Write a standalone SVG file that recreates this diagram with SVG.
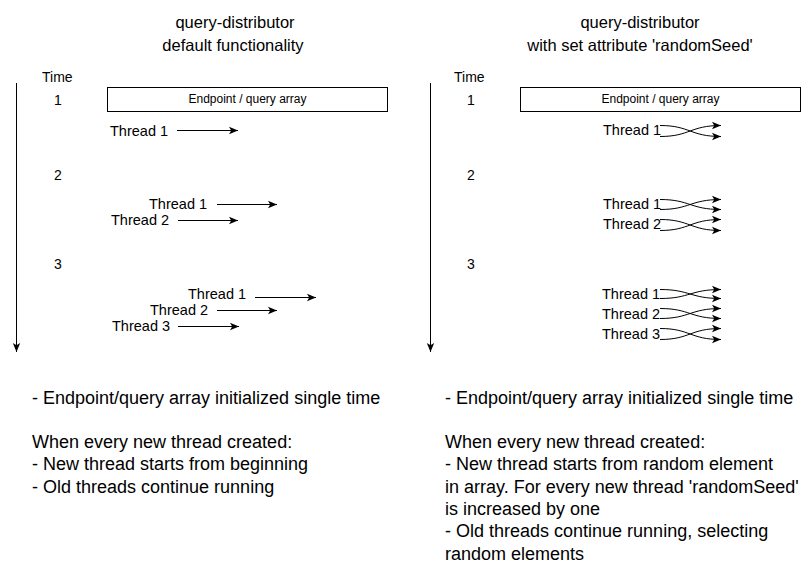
<svg xmlns="http://www.w3.org/2000/svg" width="805" height="573" viewBox="0 0 805 573">
<style>
text{font-family:"Liberation Sans",Arial,sans-serif;fill:#000}
.title{font-size:16.5px;text-anchor:middle}
.time{font-size:14px}
.th{font-size:14.5px}
.box{fill:#fff;stroke:#000;stroke-width:1}
.boxt{font-size:12px;text-anchor:middle}
.note{font-size:18px}
.ln{fill:none;stroke:#000;stroke-width:1}
</style>
<defs>
<marker id="arr" markerUnits="userSpaceOnUse" markerWidth="10" markerHeight="9" refX="9" refY="4.5" orient="auto" viewBox="0 0 10 9">
<path d="M0,0.8 L9,4.5 L0,8.2 L2.2,4.5 Z" fill="#000"/>
</marker>
</defs>
<rect width="805" height="573" fill="#fff"/>

<g id="title-left"><text class="title" x="235" y="28">query-distributor</text><text class="title" x="233" y="51">default functionality</text></g>
<g id="title-right"><text class="title" x="640" y="28">query-distributor</text><text class="title" x="640" y="51">with set attribute 'randomSeed'</text></g>

<g id="time-left"><text class="time" x="42" y="82">Time</text><text class="time" x="54" y="105">1</text><text class="time" x="54" y="180">2</text><text class="time" x="54" y="269">3</text></g>
<g id="time-right"><text class="time" x="454" y="82">Time</text><text class="time" x="467" y="105">1</text><text class="time" x="467" y="180">2</text><text class="time" x="467" y="269">3</text></g>

<g id="array-left"><rect class="box" x="107.5" y="87.5" width="280" height="24"/><text class="boxt" x="247.5" y="103">Endpoint / query array</text></g>
<g id="array-right"><rect class="box" x="520.5" y="87.5" width="280" height="24"/><text class="boxt" x="660.5" y="103">Endpoint / query array</text></g>

<g id="threads-left">
<text class="th" x="110" y="135.5">Thread 1</text>
<text class="th" x="149" y="208.5">Thread 1</text>
<text class="th" x="111" y="225">Thread 2</text>
<text class="th" x="188" y="299">Thread 1</text>
<text class="th" x="150" y="314.5">Thread 2</text>
<text class="th" x="112" y="330.5">Thread 3</text>
</g>
<g id="threads-right">
<text class="th" x="603" y="135">Thread 1</text>
<text class="th" x="603" y="209">Thread 1</text>
<text class="th" x="603" y="229">Thread 2</text>
<text class="th" x="602" y="299">Thread 1</text>
<text class="th" x="602" y="319">Thread 2</text>
<text class="th" x="602" y="339">Thread 3</text>
</g>

<g id="connectors">
<line class="ln" x1="16.5" y1="83" x2="16.5" y2="352" marker-end="url(#arr)"/>
<line class="ln" x1="430.5" y1="83" x2="430.5" y2="352" marker-end="url(#arr)"/>
<line class="ln" x1="177" y1="130.5" x2="238" y2="130.5" marker-end="url(#arr)"/>
<line class="ln" x1="217" y1="204.5" x2="277" y2="204.5" marker-end="url(#arr)"/>
<line class="ln" x1="178" y1="220.5" x2="238" y2="220.5" marker-end="url(#arr)"/>
<line class="ln" x1="255" y1="297.5" x2="316" y2="297.5" marker-end="url(#arr)"/>
<line class="ln" x1="217" y1="310.5" x2="277" y2="310.5" marker-end="url(#arr)"/>
<line class="ln" x1="178" y1="326.5" x2="239" y2="326.5" marker-end="url(#arr)"/>

<path class="ln" d="M660,125.5 C690,125.5 690,136.5 721,136.5" marker-end="url(#arr)"/>
<path class="ln" d="M660,136.5 C690,136.5 690,125.5 721,125.5" marker-end="url(#arr)"/>
<path class="ln" d="M660,199.5 C690,199.5 690,209.5 721,209.5" marker-end="url(#arr)"/>
<path class="ln" d="M660,209.5 C690,209.5 690,199.5 721,199.5" marker-end="url(#arr)"/>
<path class="ln" d="M660,219.5 C690,219.5 690,230.5 721,230.5" marker-end="url(#arr)"/>
<path class="ln" d="M660,230.5 C690,230.5 690,219.5 721,219.5" marker-end="url(#arr)"/>
<path class="ln" d="M660,289.5 C690,289.5 690,298.5 721,298.5" marker-end="url(#arr)"/>
<path class="ln" d="M660,298.5 C690,298.5 690,289.5 721,289.5" marker-end="url(#arr)"/>
<path class="ln" d="M660,308.5 C690,308.5 690,318.5 721,318.5" marker-end="url(#arr)"/>
<path class="ln" d="M660,318.5 C690,318.5 690,308.5 721,308.5" marker-end="url(#arr)"/>
<path class="ln" d="M660,328.5 C690,328.5 690,339.5 721,339.5" marker-end="url(#arr)"/>
<path class="ln" d="M660,339.5 C690,339.5 690,328.5 721,328.5" marker-end="url(#arr)"/>
</g>

<g id="notes-left">
<text class="note" x="32" y="403.5">- Endpoint/query array initialized single time</text>
<text class="note" x="32" y="447.5">When every new thread created:</text>
<text class="note" x="32" y="470">- New thread starts from beginning</text>
<text class="note" x="32" y="492.5">- Old threads continue running</text>
</g>
<g id="notes-right">
<text class="note" x="445" y="403.5">- Endpoint/query array initialized single time</text>
<text class="note" x="445" y="447.5">When every new thread created:</text>
<text class="note" x="445" y="470">- New thread starts from random element</text>
<text class="note" x="445" y="492.5">in array. For every new thread 'randomSeed'</text>
<text class="note" x="445" y="514.5">is increased by one</text>
<text class="note" x="445" y="537">- Old threads continue running, selecting</text>
<text class="note" x="445" y="559.5">random elements</text>
</g>
</svg>
